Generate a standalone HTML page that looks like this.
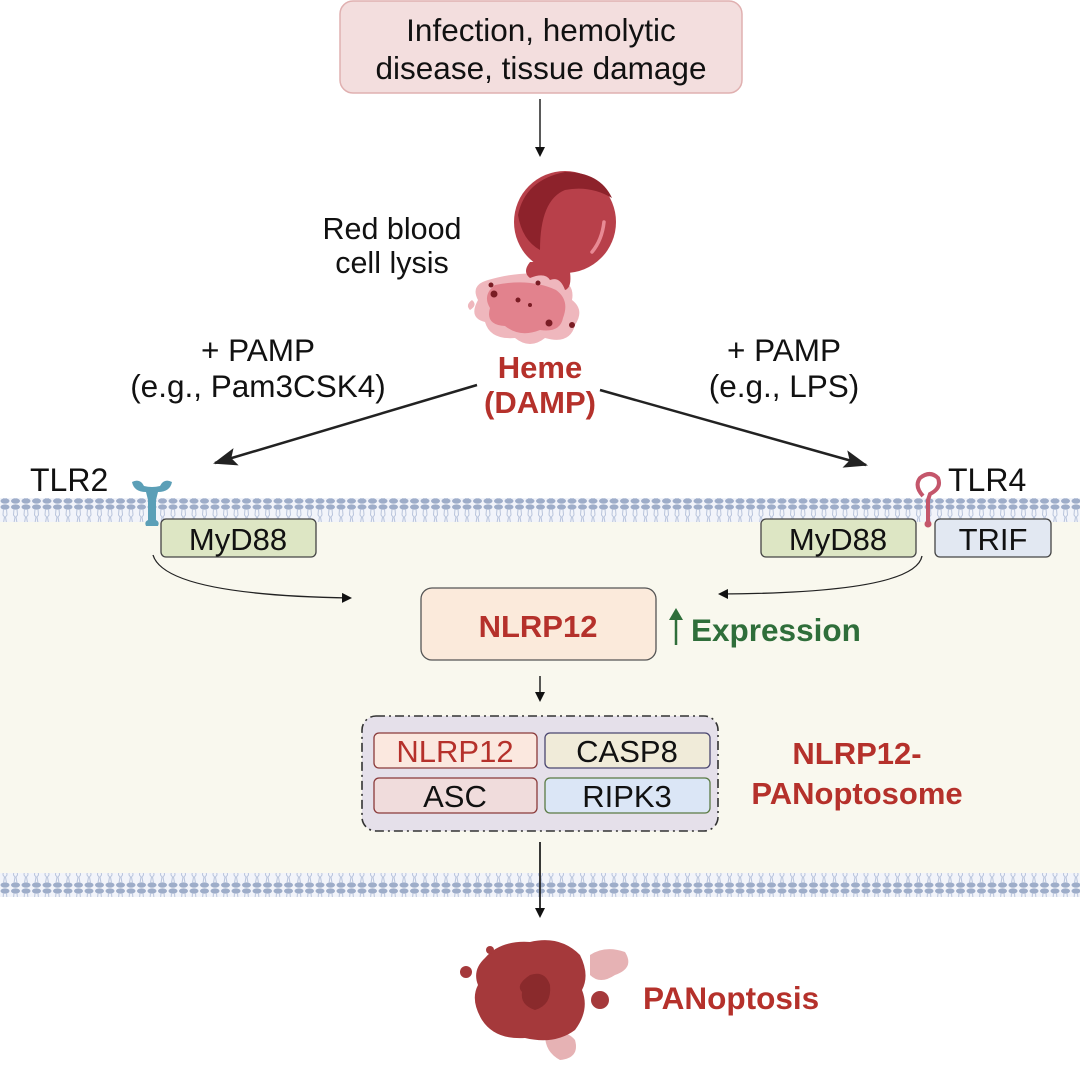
<!DOCTYPE html>
<html><head><meta charset="utf-8"><style>
html,body{margin:0;padding:0;background:#fff;}
svg{display:block;font-family:"Liberation Sans",sans-serif;}
</style></head><body>
<svg width="1080" height="1076" viewBox="0 0 1080 1076" xmlns="http://www.w3.org/2000/svg">
<defs>
<pattern id="mem" x="0" y="0" width="10.5" height="24" patternUnits="userSpaceOnUse">
<rect x="0" y="0" width="10.5" height="24" fill="#f2f4fa"/>
<ellipse cx="5" cy="3" rx="4.5" ry="2.6" fill="#9eadc9"/>
<ellipse cx="5" cy="21" rx="4.5" ry="2.6" fill="#9eadc9"/>
<path d="M3.5 5 L3 11 L4.5 13 L3.5 19 M6.5 5 L7 11 L5.5 13 L6.5 19" stroke="#b9c4dc" stroke-width="1" fill="none"/>
</pattern>
<marker id="ah" markerWidth="10" markerHeight="10" refX="8" refY="5" orient="auto" markerUnits="userSpaceOnUse"><path d="M0 0 L10 5 L0 10 Z" fill="#111"/></marker>
<marker id="ahb" markerWidth="24" markerHeight="18" refX="22" refY="9" orient="auto" markerUnits="userSpaceOnUse"><path d="M0 0 L24 9 L0 18 L5 9 Z" fill="#222"/></marker>
</defs>
<rect x="0" y="520" width="1080" height="355" fill="#f9f8ee"/>
<rect x="0" y="498" width="1080" height="24" fill="url(#mem)"/>
<rect x="0" y="873" width="1080" height="24" fill="url(#mem)"/>

<!-- top box -->
<rect x="340" y="1" width="402" height="92" rx="13" fill="#f3dede" stroke="#e0b0b0" stroke-width="1.5"/>
<text x="541" y="41" font-size="31.5" text-anchor="middle" fill="#111">Infection, hemolytic</text>
<text x="541" y="79" font-size="31.5" text-anchor="middle" fill="#111">disease, tissue damage</text>
<line x1="540" y1="99" x2="540" y2="155" stroke="#222" stroke-width="1.5" marker-end="url(#ah)"/>

<!-- RBC -->
<g>
<path d="M488 280 Q470 285 478 300 Q468 318 485 322 Q490 340 515 338 Q530 350 545 338 Q570 345 575 325 Q585 310 572 300 Q575 285 560 278 Q530 268 488 280 Z" fill="#efb7bd"/>
<path d="M495 285 Q482 295 490 308 Q485 325 505 326 Q520 338 540 330 Q560 333 563 318 Q570 300 556 290 Q530 278 495 285 Z" fill="#e2828d"/>
<path d="M472 300 Q465 305 470 310 Q478 305 472 300 Z" fill="#efb7bd"/>
<circle cx="565" cy="222" r="51" fill="#b8404a"/>
<path d="M530 262 Q522 272 530 278 Q545 272 550 280 Q560 276 565 290 Q572 288 570 272 Q575 268 575 262 Z" fill="#b8404a"/>
<path d="M518 215 Q525 180 565 172 Q600 172 612 198 Q590 185 565 190 Q540 200 540 250 Q522 240 518 215 Z" fill="#8d222b"/>
<path d="M604 222 Q602 240 592 252" stroke="#e88a94" stroke-width="3.5" fill="none" stroke-linecap="round"/>
<circle cx="491" cy="285" r="2.5" fill="#7a1c24"/><circle cx="494" cy="294" r="3.5" fill="#7a1c24"/><circle cx="549" cy="323" r="3.5" fill="#7a1c24"/><circle cx="572" cy="325" r="3" fill="#7a1c24"/><circle cx="518" cy="300" r="2.5" fill="#7a1c24"/><circle cx="538" cy="283" r="2.5" fill="#7a1c24"/><circle cx="530" cy="305" r="2" fill="#7a1c24"/>
</g>
<text x="392" y="239" font-size="30.5" text-anchor="middle" fill="#111">Red blood</text>
<text x="392" y="273" font-size="30.5" text-anchor="middle" fill="#111">cell lysis</text>

<text x="258" y="361" font-size="31.5" text-anchor="middle" fill="#111">+ PAMP</text>
<text x="258" y="397" font-size="31.5" text-anchor="middle" fill="#111">(e.g., Pam3CSK4)</text>
<text x="784" y="361" font-size="31.5" text-anchor="middle" fill="#111">+ PAMP</text>
<text x="784" y="397" font-size="31.5" text-anchor="middle" fill="#111">(e.g., LPS)</text>
<text x="540" y="378" font-size="31" font-weight="bold" text-anchor="middle" fill="#b5312b">Heme</text>
<text x="540" y="413" font-size="31" font-weight="bold" text-anchor="middle" fill="#b5312b">(DAMP)</text>

<path d="M477 385 L215 463" stroke="#222" stroke-width="2.5" marker-end="url(#ahb)"/>
<path d="M600 390 L866 465" stroke="#222" stroke-width="2.5" marker-end="url(#ahb)"/>

<text x="30" y="491" font-size="32" fill="#111">TLR2</text>
<text x="948" y="491" font-size="32" fill="#111">TLR4</text>

<!-- TLR2 receptor -->
<g fill="#5b9fb7">
<path d="M132 482 Q134 492 146 492 L148 500 L148 520 Q144 522 146 526 L158 526 Q160 522 156 520 L156 500 L158 492 Q170 492 172 482 Q164 478 160 486 Q152 488 144 486 Q140 478 132 482 Z"/>
</g>
<!-- TLR4 receptor -->
<path d="M923 496 Q914 486 920 478 Q930 470 938 478 Q942 488 930 494 L928 500 L928 522" stroke="#c4566b" stroke-width="4" fill="none"/>
<circle cx="928" cy="524" r="3.5" fill="#c4566b"/>

<!-- MyD88 / TRIF -->
<rect x="161" y="519" width="155" height="38" rx="5" fill="#dde6c4" stroke="#444" stroke-width="1.3"/>
<text x="238" y="550" font-size="31" text-anchor="middle" fill="#111">MyD88</text>
<rect x="761" y="519" width="155" height="38" rx="5" fill="#dde6c4" stroke="#444" stroke-width="1.3"/>
<text x="838" y="550" font-size="31" text-anchor="middle" fill="#111">MyD88</text>
<rect x="935" y="519" width="116" height="38" rx="5" fill="#e2e8f2" stroke="#444" stroke-width="1.3"/>
<text x="993" y="550" font-size="31" text-anchor="middle" fill="#111">TRIF</text>

<path d="M153 555 Q165 595 350 598" stroke="#222" stroke-width="1.3" fill="none" marker-end="url(#ah)"/>
<path d="M922 556 Q915 593 720 594" stroke="#222" stroke-width="1.3" fill="none" marker-end="url(#ah)"/>

<!-- NLRP12 -->
<rect x="421" y="588" width="235" height="72" rx="11" fill="#fbeadb" stroke="#555" stroke-width="1.3"/>
<text x="538" y="637" font-size="31" font-weight="bold" text-anchor="middle" fill="#b5312b">NLRP12</text>
<line x1="676" y1="645" x2="676" y2="616" stroke="#2f6e3a" stroke-width="2.5"/>
<path d="M669 620 L676 608 L683 620 Z" fill="#2f6e3a"/>
<text x="691" y="641" font-size="31.5" font-weight="bold" fill="#2f6e3a">Expression</text>

<line x1="540" y1="676" x2="540" y2="700" stroke="#222" stroke-width="1.5" marker-end="url(#ah)"/>

<!-- complex -->
<rect x="362" y="716" width="356" height="115" rx="14" fill="#e5e0ea" stroke="#333" stroke-width="1.6" stroke-dasharray="9,4,2,4"/>
<rect x="374" y="733" width="163" height="35" rx="5" fill="#fbe8df" stroke="#8a3a3a" stroke-width="1.3"/>
<text x="455" y="762" font-size="31" text-anchor="middle" fill="#b5312b">NLRP12</text>
<rect x="545" y="733" width="165" height="35" rx="5" fill="#f0ebd9" stroke="#4a4670" stroke-width="1.3"/>
<text x="627" y="762" font-size="31" text-anchor="middle" fill="#111">CASP8</text>
<rect x="374" y="778" width="163" height="35" rx="5" fill="#f0dcdc" stroke="#8a3a3a" stroke-width="1.3"/>
<text x="455" y="807" font-size="31" text-anchor="middle" fill="#111">ASC</text>
<rect x="545" y="778" width="165" height="35" rx="5" fill="#dbe6f6" stroke="#5a7a44" stroke-width="1.3"/>
<text x="627" y="807" font-size="31" text-anchor="middle" fill="#111">RIPK3</text>
<text x="857" y="764" font-size="31" font-weight="bold" text-anchor="middle" fill="#b5312b">NLRP12-</text>
<text x="857" y="804" font-size="31" font-weight="bold" text-anchor="middle" fill="#b5312b">PANoptosome</text>

<line x1="540" y1="842" x2="540" y2="916" stroke="#222" stroke-width="1.8" marker-end="url(#ah)"/>

<!-- PANoptosis blob -->
<path d="M590 955 Q605 945 625 952 Q635 968 615 975 Q600 985 590 975 Z" fill="#e6b2b4"/>
<path d="M545 1035 Q565 1028 575 1040 Q580 1058 560 1060 Q545 1052 545 1035 Z" fill="#e6b2b4"/>
<path d="M485 958 Q500 940 530 942 Q560 935 580 955 Q590 975 582 990 Q590 1010 575 1030 Q555 1045 525 1038 Q495 1040 482 1020 Q470 1000 478 985 Q472 970 485 958 Z" fill="#a5393b"/>
<path d="M530 975 Q545 970 550 985 Q552 1005 535 1010 Q520 1005 522 992 Q515 985 530 975 Z" fill="#8a2a2c"/>
<circle cx="600" cy="1000" r="9" fill="#a5393b"/>
<circle cx="466" cy="972" r="6" fill="#a5393b"/>
<circle cx="490" cy="950" r="4" fill="#a5393b"/>
<text x="643" y="1009" font-size="31.5" font-weight="bold" fill="#b5312b">PANoptosis</text>
</svg>
</body></html>
